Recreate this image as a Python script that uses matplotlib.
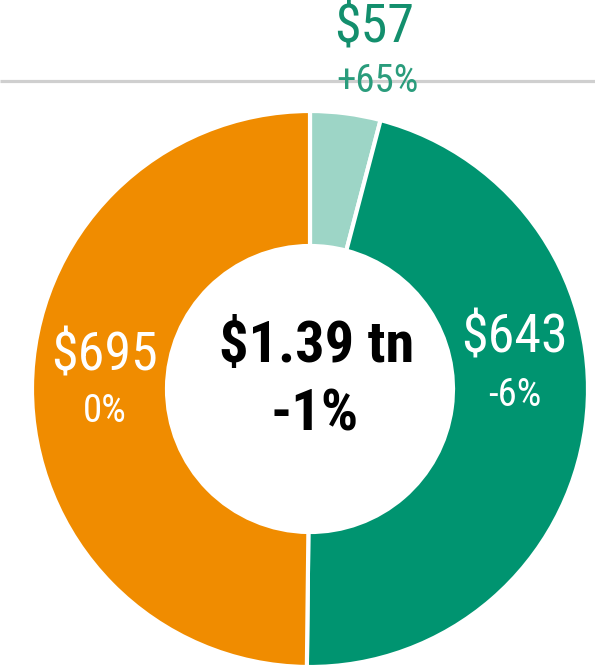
import matplotlib.pyplot as plt

# spending split, $bn
values = [57, 643, 695]
amounts = ["$57", "$643", "$695"]
changes = ["+65%", "-6%", "0%"]
colors = ["#9dd5c6", "#009470", "#f08c00"]
total_label = "$1.39 tn"
total_change = "-1%"

W, H = 595, 667
plt.rcParams['font.family'] = ['Roboto Condensed', 'DejaVu Sans']

fig = plt.figure(figsize=(W / 100, H / 100), dpi=100)
ax = fig.add_axes([0, 0, 1, 1])

cx, cy, r = 310, H - 389, 278
ax.pie(values, colors=colors, startangle=90, counterclock=False,
       center=(cx, cy), radius=r, frame=True,
       wedgeprops=dict(width=135, edgecolor="white", linewidth=3))
ax.set_xlim(0, W)
ax.set_ylim(0, H)
ax.set_aspect('equal')
ax.axis('off')

# thin rule across the top
ax.plot([0, W], [H - 81, H - 81], color="#cfcfcf", lw=2.3, zorder=0,
        clip_on=False, solid_capstyle="butt")

# small slice label sits above the ring
ax.text(374, H - 28, amounts[0], color="#138f6d", fontsize=39,
        ha="center", va="center")
ax.text(377, H - 82, changes[0], color="#2a9c7c", fontsize=28,
        ha="center", va="center")

# labels inside the big slices
ax.text(515, H - 338, amounts[1], color="white", fontsize=39,
        ha="center", va="center")
ax.text(515, H - 395, changes[1], color="white", fontsize=28,
        ha="center", va="center")
ax.text(105, H - 356, amounts[2], color="white", fontsize=39,
        ha="center", va="center")
ax.text(105, H - 411, changes[2], color="white", fontsize=28,
        ha="center", va="center")

# centre total
ax.text(317, H - 347, total_label, color="black", fontsize=42,
        fontweight="black", ha="center", va="center")
ax.text(315, H - 415, total_change, color="black", fontsize=42,
        fontweight="black", ha="center", va="center")

fig.savefig("out.png", dpi=100)
